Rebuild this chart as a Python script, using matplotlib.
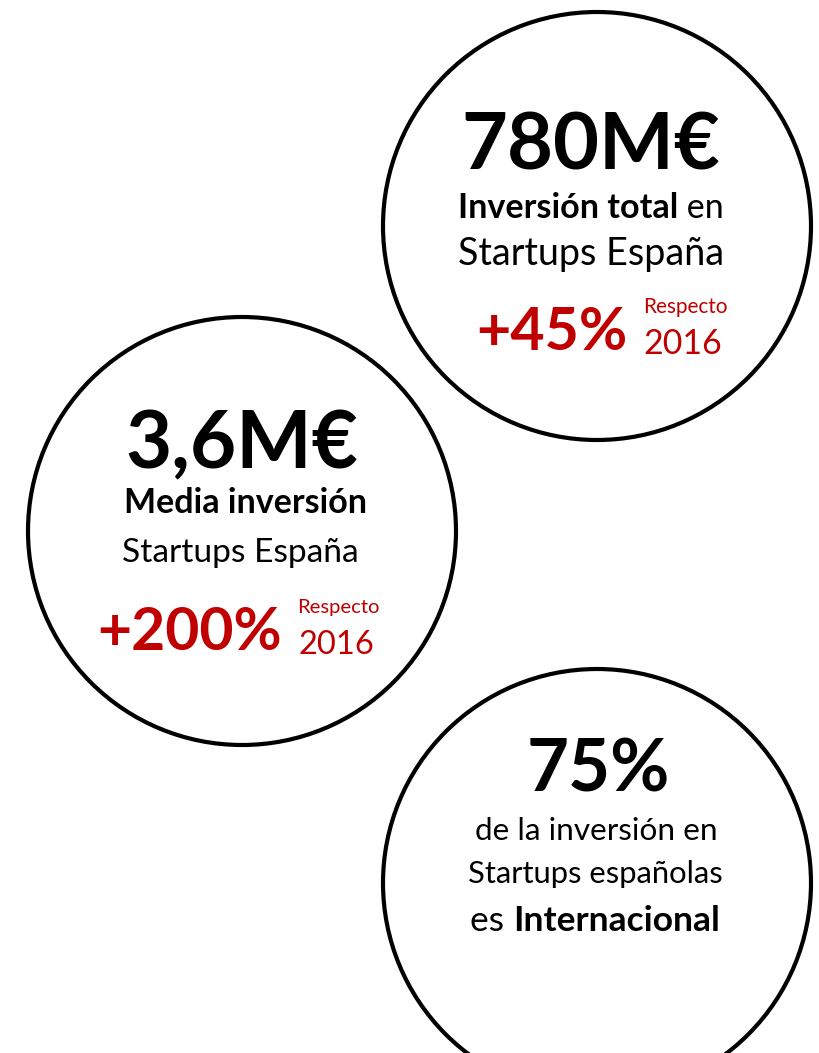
import matplotlib
matplotlib.use("Agg")
import matplotlib.pyplot as plt
from matplotlib.patches import Circle

plt.rcParams['font.family'] = ['Lato', 'DejaVu Sans']

# --- data -------------------------------------------------------------
headlines = ["780M€", "3,6M€", "75%"]
# each line is a list of (text, bold?) segments
lines_1 = [[("Inversión total", True), (" en", False)],
           [("Startups España", False)]]
lines_2 = [[("Media inversión", True)],
           [("Startups España", False)]]
lines_3 = [[("de la inversión en", False)],
           [("Startups españolas", False)],
           [("es ", False), ("Internacional", True)]]
changes = ["+45%", "+200%"]
ref_word = "Respecto"
ref_year = "2016"

RED = "#c00000"

W, H = 819, 1053
fig = plt.figure(figsize=(W / 100, H / 100), dpi=100)
ax = fig.add_axes([0, 0, 1, 1])
ax.set_xlim(0, W)
ax.set_ylim(H, 0)
ax.set_aspect("equal")
ax.axis("off")

fig.canvas.draw()
renderer = fig.canvas.get_renderer()


def seg_width(txt, size, bold):
    t = ax.text(0, 0, txt, fontsize=size, fontweight="bold" if bold else "normal")
    w = t.get_window_extent(renderer).width
    t.remove()
    return w


def put(segs, x, y, width, color="black", align="center"):
    # scale the font so the whole line spans `width` pixels
    w10 = sum(seg_width(s, 10, b) for s, b in segs)
    size = 10 * width / w10
    widths = [seg_width(s, size, b) for s, b in segs]
    x0 = x - sum(widths) / 2 if align == "center" else x
    for (s, b), w in zip(segs, widths):
        ax.text(x0, y, s, fontsize=size, color=color, va="baseline", ha="left",
                fontweight="bold" if b else "normal")
        x0 += w


# circles
for cx, cy in [(597, 226), (242, 531), (597, 883)]:
    ax.add_patch(Circle((cx, cy), 214, fill=False, ec="black", lw=3))

# circle 1
put([(headlines[0], True)], 591, 169, 258)
put(lines_1[0], 591, 218, 266)
put(lines_1[1], 591, 265, 266)
put([(changes[0], True)], 476, 350, 151, color=RED, align="left")
put([(ref_word, False)], 643, 313, 85, color=RED, align="left")
put([(ref_year, False)], 643, 354, 79, color=RED, align="left")

# circle 2
put([(headlines[1], True)], 242, 468, 233)
put(lines_2[0], 245, 513, 244)
put(lines_2[1], 240, 562, 236)
put([(changes[1], True)], 97, 650, 185, color=RED, align="left")
put([(ref_word, False)], 297, 613, 83, color=RED, align="left")
put([(ref_year, False)], 298, 654, 76, color=RED, align="left")

# circle 3
put([(headlines[2], True)], 598, 792, 143)
put(lines_3[0], 596, 840, 242)
put(lines_3[1], 595, 883, 256)
put(lines_3[2], 595, 931, 250)

fig.savefig("out.png", dpi=100, facecolor="white")
